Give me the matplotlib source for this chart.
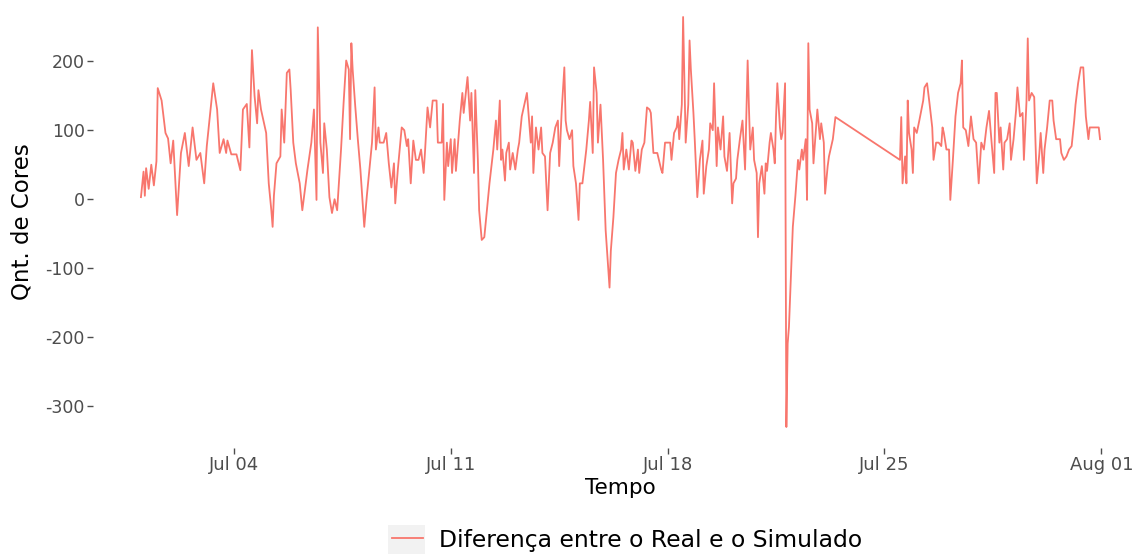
import matplotlib
matplotlib.use("Agg")
import matplotlib.pyplot as plt
import matplotlib.dates as mdates
from matplotlib.patches import Rectangle
from matplotlib.lines import Line2D
import pandas as pd

# ── Series: hours since 2021-07-01 00:00 and difference in cores ─────────────
START = pd.Timestamp("2021-07-01 00:00")

HOURS = [
    0, 2, 3, 4, 6, 8, 10, 12, 13, 16, 19, 21, 23, 25, 28, 31, 34, 37, 40, 43,
    46, 49, 51, 53, 56, 59, 61, 64, 66, 67, 70, 74, 77, 79, 82, 84, 86, 88, 90,
    91, 93, 97, 99, 101, 102, 103, 105, 108, 109, 111, 113, 115, 116, 118, 120,
    123, 125, 127, 129, 132, 134, 136, 137, 139, 141, 142, 144, 146, 148, 150,
    152, 155, 157, 159, 161, 162, 163, 164, 166, 168, 170, 173, 175, 177, 179,
    181, 182, 184,
    185, 188, 190, 192, 194, 196, 197, 199, 202, 204, 206, 207, 209, 211, 213,
    215, 217, 219, 220, 222, 224, 226, 229, 230, 233, 234, 235, 237, 238, 240,
    241, 243, 244, 247, 249, 250, 253, 255, 256, 258, 259, 261, 262, 264, 266,
    268, 270, 273, 275, 276,
    278, 279, 280, 282, 283, 285, 286, 288, 290, 292, 293, 295, 297, 299, 300,
    302, 303, 304, 306, 308, 310, 311, 313, 315, 317, 319, 321, 323, 324, 326,
    328, 329, 330, 332, 334, 335, 337, 339, 340, 342, 345, 347, 348, 350, 351,
    353, 354, 356, 358, 360, 362, 363, 364, 366, 368,
    370, 372, 373, 374, 376, 378, 380, 381, 383, 385, 386, 388, 390, 392, 394,
    395, 397, 400, 403, 404, 406, 410, 411, 413, 415, 416, 417, 419, 420, 421,
    422, 424, 425, 426, 428, 429, 431, 433, 435, 436, 438, 440, 441, 443, 444,
    446, 447, 449, 451, 452, 454, 456, 458, 459,
    461, 462, 464, 466, 468, 470, 471, 472, 474, 475, 477, 478, 479, 481, 483,
    484, 485, 487, 488, 490, 491, 492, 493, 495, 496, 497, 499, 500, 501, 502,
    503, 505, 507, 509, 510, 512, 513, 515, 516, 517, 518, 520, 521, 523, 524,
    526, 527, 529, 530, 532, 533, 536, 538,
    588, 589, 590, 592, 593, 594, 595, 597, 598, 599, 601, 603, 606, 607, 609,
    611, 613, 614, 616, 618, 620, 621, 622, 624, 626, 627, 629, 631, 633, 635,
    636, 637, 639, 641, 643, 645, 647, 649,
    651, 653, 655, 657, 659, 661, 662, 663, 665, 666, 668, 669, 671, 673, 674,
    676, 678, 679, 681, 683, 684, 686, 687, 688, 690, 692, 693, 694, 696, 697,
    699, 700, 702, 704, 706, 707, 709, 712, 713, 715, 717, 719, 721, 723, 724,
    726, 728, 730, 732, 734, 735, 739, 742, 743,
]

VALUES = [
    3, 40, 5, 45, 15, 50, 20, 55, 161, 143, 96, 88, 52, 85, -23, 67, 96, 48, 104, 57,
    67, 23, 77, 114, 168, 130, 67, 87, 67, 85, 65, 65, 42, 130, 138, 75, 216, 150, 110,
    158, 130, 96, 23, -16, -40, 5, 52, 62, 130, 82, 183, 188, 158, 82, 52,
    23, -16, 14, 43, 82, 130, -1, 249, 82, 38, 110, 72, 3, -20, 0,
    -16, 72, 140, 201, 188, 87, 226, 188, 135, 87, 43, -40, 5, 43, 82,
    162, 72, 104,
    82, 82, 96, 52, 17, 52, -6, 43, 104, 100, 77, 87, 23, 85, 57,
    57, 72, 38, 67, 133, 104, 143, 143, 82, 82, 138, -1, 82, 48, 87,
    38, 87, 41, 114, 154, 125, 177, 114, 154, 38, 158, 57, -16, -59, -55,
    -16, 23, 72, 114, 72,
    143, 57, 72, 27, 67, 82, 43, 67, 43, 72, 82, 120, 137, 154, 130,
    82, 120, 38, 104, 72, 104, 67, 62, -16, 67, 82, 104, 114, 48, 130,
    191, 114, 100, 87, 100, 48, 23, -30, 23, 23, 72, 114, 141, 67, 191,
    154, 82, 137, 57, -45, -99, -128, -75, -26, 38,
    57, 72, 96, 43, 72, 43, 85, 82, 41, 72, 38, 72, 82, 133, 130,
    125, 67, 67, 43, 38, 82, 82, 57, 96, 104, 120, 87, 137, 264, 174,
    82, 137, 230, 188, 125, 87, 3, 57, 85, 8, 48, 72, 110, 100, 168,
    48, 104, 72, 120, 62, 41, 96, -6, 23,
    30, 57, 87, 114, 43, 201, 133, 72, 104, 57, 38, -55, 23, 48, 8,
    52, 41, 82, 96, 72, 52, 120, 168, 104, 87, 96, 168, -330, -209, -185,
    -136, -40, 5, 57, 43, 72, 57, 87, -1, 226, 130, 110, 52, 104, 130,
    87, 110, 82, 8, 48, 62, 87, 119,
    57, 119, 23, 62, 23, 143, 96, 72, 38, 104, 96, 114, 143, 162, 168,
    137, 104, 57, 82, 82, 77, 104, 96, 72, 72, -1, 57, 120, 154, 168,
    201, 104, 100, 77, 120, 87, 82, 23,
    82, 72, 104, 128, 82, 38, 154, 154, 82, 104, 43, 82, 87, 110, 57,
    87, 130, 162, 120, 125, 57, 141, 233, 143, 154, 148, 82, 23, 67, 96,
    38, 72, 104, 143, 143, 114, 87, 87, 67, 57, 62, 72, 77, 114, 137,
    168, 191, 191, 120, 87, 104, 104, 104, 87,
]

SERIES_LABEL = "Diferença entre o Real e o Simulado"
Y_TICKS = [-300, -200, -100, 0, 100, 200]
X_TICKS = ["2021-07-04", "2021-07-11", "2021-07-18", "2021-07-25", "2021-08-01"]

LINE_COLOR = "#F8766D"
TICK_GREY = "#4D4D4D"

assert len(HOURS) == len(VALUES)

plt.rcParams["font.family"] = ["DejaVu Sans"]

times = START + pd.to_timedelta(HOURS, unit="h")

W, H = 1139, 554
fig = plt.figure(figsize=(W / 100, H / 100), dpi=100)
fig.patch.set_facecolor("white")

# panel in pixel terms (left, top, right, bottom), ggplot-like
pl, pt, pr, pb = 93, -3.5, 1148, 447.5
ax = fig.add_axes([pl / W, 1 - pb / H, (pr - pl) / W, (pb - pt) / H])
ax.set_facecolor("white")

ax.plot(times, VALUES, color=LINE_COLOR, lw=1.3, solid_joinstyle="round")

# 5% expansion on both scales
t0, t1 = times.min(), times.max()
tpad = (t1 - t0) * 0.05
ax.set_xlim(t0 - tpad, t1 + tpad)
vmin, vmax = min(VALUES), max(VALUES)
vpad = (vmax - vmin) * 0.05
ax.set_ylim(vmin - vpad, vmax + vpad)

for s in ax.spines.values():
    s.set_visible(False)

ax.set_yticks(Y_TICKS)
ax.set_yticklabels([str(v) for v in Y_TICKS])
ax.set_xticks(pd.to_datetime(X_TICKS))
ax.xaxis.set_major_formatter(mdates.DateFormatter("%b %d"))
ax.tick_params(axis="both", colors=TICK_GREY, labelcolor=TICK_GREY,
               length=4, width=1, pad=2)
ax.tick_params(axis="y", labelsize=12.5)
ax.tick_params(axis="x", labelsize=13)

ax.set_xlabel("Tempo", fontsize=15.5, color="black")
ax.xaxis.set_label_coords(0.5, -(488 - pb) / (pb - pt))
ax.xaxis.label.set_va("center")
ax.set_ylabel("Qnt. de Cores", fontsize=16.5, color="black")
ax.yaxis.set_label_coords(-(pl - 22) / (pr - pl), 0.5)
ax.yaxis.label.set_va("center")

# legend key background and legend at the bottom
fig.patches.append(Rectangle((388 / W, 1 - 554 / H), 37 / W, 29 / H,
                             transform=fig.transFigure, facecolor="#F2F2F2",
                             edgecolor="none", zorder=0))
handle = Line2D([], [], color=LINE_COLOR, lw=1.3)
fig.legend([handle], [SERIES_LABEL], loc="center left",
           bbox_to_anchor=(392 / W, 1 - 540 / H), frameon=False,
           fontsize=16.9, handlelength=1.3, handletextpad=0.7,
           borderpad=0, borderaxespad=0)

fig.savefig("out.png", dpi=100, facecolor="white")
